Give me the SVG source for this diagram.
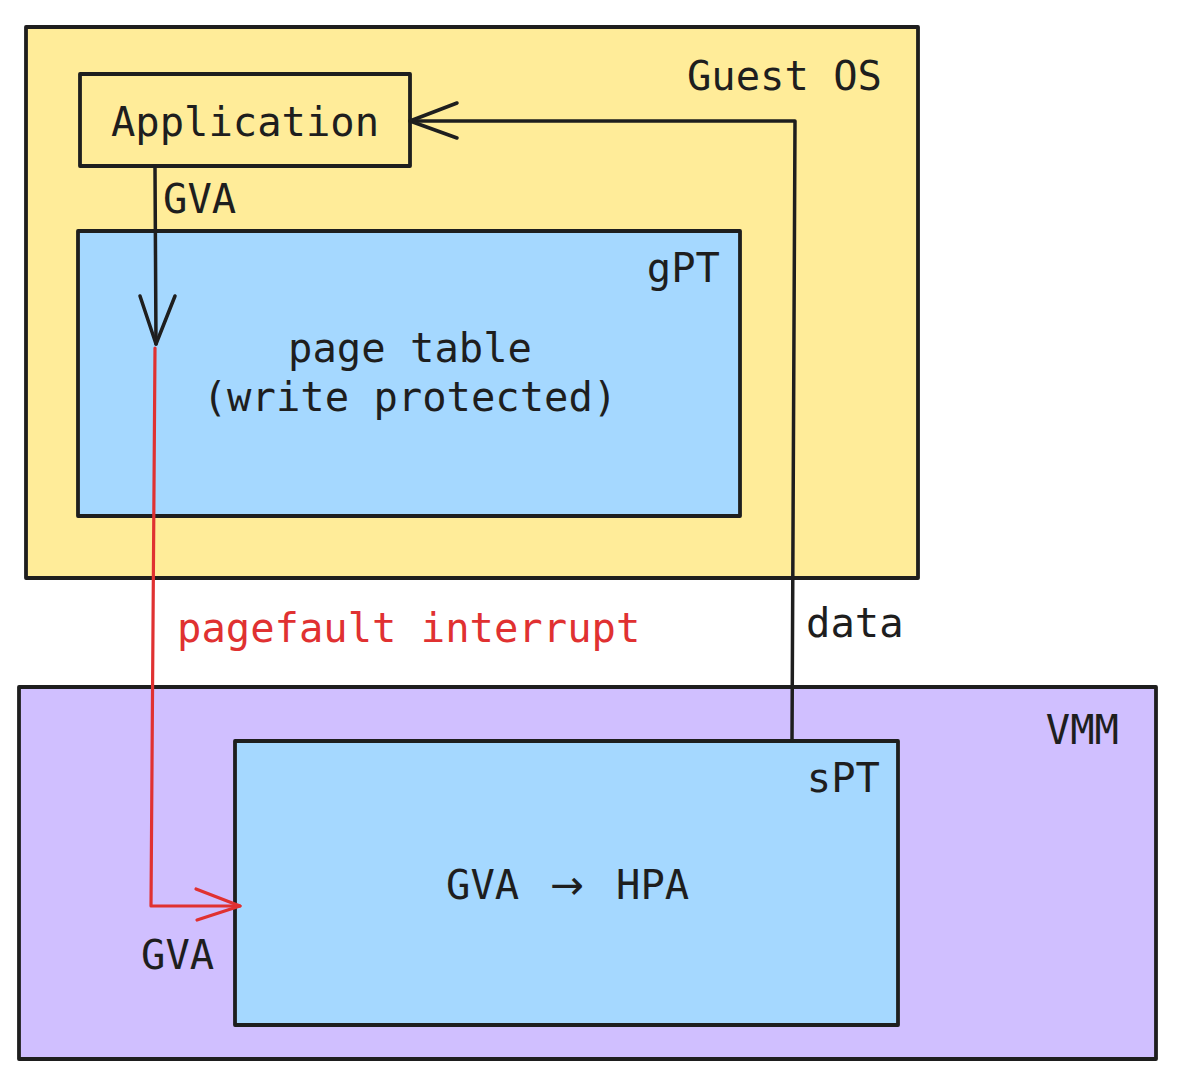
<svg xmlns="http://www.w3.org/2000/svg" width="1192" height="1077" viewBox="0 0 1192 1077">
<style>
.box{stroke:#1e1e1e;stroke-width:3.8;stroke-linejoin:round}
.yel{fill:#ffec99}
.blu{fill:#a5d8ff}
.pur{fill:#d0bfff}
.t{font-family:"DejaVu Sans Mono","Liberation Mono",monospace;font-size:40.5px;fill:#1e1e1e}
.red{fill:#e03131}
.ln{fill:none;stroke:#1e1e1e;stroke-width:3.5;stroke-linecap:round;stroke-linejoin:round}
.rl{fill:none;stroke:#e03131;stroke-width:3.2;stroke-linecap:round;stroke-linejoin:round}
</style>
<rect width="1192" height="1077" fill="#ffffff"/>
<g id="guest-os">
<rect class="box yel" x="26" y="27" width="892" height="551"/>
<text class="t" x="882" y="90" text-anchor="end">Guest OS</text>
</g>
<g id="application">
<rect class="box yel" x="80" y="74" width="330" height="92"/>
<text class="t" x="245" y="136" text-anchor="middle">Application</text>
</g>
<g id="gpt">
<rect class="box blu" x="78" y="231" width="662" height="285"/>
<text class="t" x="720" y="282" text-anchor="end">gPT</text>
<text class="t" x="410" y="362" text-anchor="middle">page table</text>
<text class="t" x="410" y="411" text-anchor="middle">(write protected)</text>
</g>
<g id="vmm">
<rect class="box pur" x="19" y="687" width="1137" height="372"/>
<text class="t" x="1119" y="744" text-anchor="end">VMM</text>
</g>
<g id="spt">
<rect class="box blu" x="235" y="741" width="663" height="284"/>
<text class="t" x="880" y="792" text-anchor="end">sPT</text>
<text class="t" y="899"><tspan x="446">GVA</tspan><tspan x="550" style="font-family:'DejaVu Sans',sans-serif">→</tspan><tspan x="616">HPA</tspan></text>
</g>
<g id="connectors">
<path class="ln" d="M155 168 L156 344"/>
<path class="ln" d="M140 296 L156 344 L175 296"/>
<path class="ln" d="M792 740 L795 121 L410 121"/>
<path class="ln" d="M457 103 L410 121 L457 138"/>
<path class="rl" d="M155 348 L151 906 L240 906"/>
<path class="rl" d="M196 889 L240 906 L197 920"/>
<text class="t" x="163" y="213">GVA</text>
<text class="t red" x="177" y="642">pagefault interrupt</text>
<text class="t" x="806" y="637">data</text>
<text class="t" x="141" y="969">GVA</text>
</g>
</svg>
